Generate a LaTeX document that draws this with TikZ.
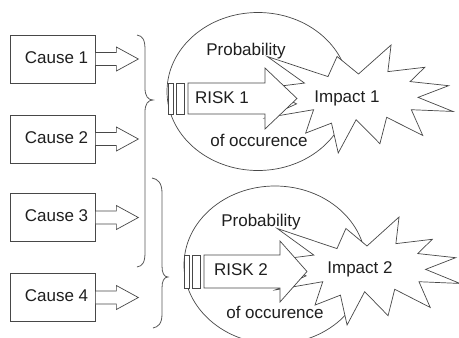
\documentclass[tikz,border=0pt]{standalone}
\usepackage{fontspec}
\setmainfont{Liberation Sans}
\begin{document}
\begin{tikzpicture}[x=1pt,y=-1pt,line width=0.7pt,
  shape line/.style={draw=black!72, fill=white, line join=miter},
  brace line/.style={draw=black!65, line width=0.8pt},
  causebox/.style={draw=black!72, fill=white, minimum width=85pt, minimum height=48pt, inner sep=0pt},
  lbl/.style={text=black!88, font=\fontsize{17}{20}\selectfont, inner sep=0pt}]
\useasboundingbox (0,0) rectangle (459,338);

% cause boxes with their block arrows
\node[causebox] (c1) at (52.5,59) {};
\node[causebox] (c2) at (52.5,139) {};
\node[causebox] (c3) at (52.5,217.5) {};
\node[causebox] (c4) at (52.5,297.5) {};
\foreach \n in {1,...,4}{
  \draw[shape line] (c\n.east) ++(0,-6.5) -- ++(21,0) -- ++(0,-5.5) -- ++(22,12)
        -- ++(-22,12) -- ++(0,-5.5) -- ++(-21,0) -- cycle;
  \node[lbl] (t\n) at ([xshift=4pt,yshift=1.5pt]c\n.center) {Cause \n};
}

% braces
\draw[brace line] (137,35) .. controls (143,36) and (145,40) .. (145,50) -- (145,88)
  .. controls (145,96) and (148,100) .. (153,100) .. controls (148,100) and (145,104) .. (145,112)
  -- (145,252) .. controls (145,262) and (143,266) .. (137,267);
\draw[brace line] (152,178) .. controls (158,179) and (162,183) .. (162,193) -- (162,266)
  .. controls (162,273) and (164,277) .. (168,277) .. controls (164,277) and (162,281) .. (162,288)
  -- (162,314) .. controls (162,324) and (158,327) .. (153,328);

% probability ellipses
\draw[shape line] (258,91.5) ellipse [x radius=91, y radius=79];
\draw[shape line] (275,265) ellipse [x radius=91, y radius=79];

% impact explosions
\begin{scope}[shift={(264,45)}, x=0.875pt, y=-0.5pt]
\draw[shape line] (108,58) -- (145.22,0) -- (141.55,53.25) -- (183.8,44.57) -- (167.02,73.15)
  -- (210.97,81.37) -- (176.07,104.75) -- (216,132.9) -- (168.37,129.42) -- (181.45,180.95)
  -- (140.2,144.57) -- (132.47,197.37) -- (105.32,149.35) -- (84.85,216) -- (77.15,156.27)
  -- (47.62,176.17) -- (56.67,129.37) -- (1.35,145.87) -- (37.22,117.75) -- (0,86.15)
  -- (46.27,76.17) -- (3.7,22.95) -- (73.12,63.2) -- (83.52,22.95) -- cycle;
\end{scope}
\begin{scope}[shift={(274,217)}, x=0.8611pt, y=-0.5pt]
\draw[shape line] (108,58) -- (145.22,0) -- (141.55,53.25) -- (183.8,44.57) -- (167.02,73.15)
  -- (210.97,81.37) -- (176.07,104.75) -- (216,132.9) -- (168.37,129.42) -- (181.45,180.95)
  -- (140.2,144.57) -- (132.47,197.37) -- (105.32,149.35) -- (84.85,216) -- (77.15,156.27)
  -- (47.62,176.17) -- (56.67,129.37) -- (1.35,145.87) -- (37.22,117.75) -- (0,86.15)
  -- (46.27,76.17) -- (3.7,22.95) -- (73.12,63.2) -- (83.52,22.95) -- cycle;
\end{scope}

% striped risk arrows
\draw[shape line] (168,83) rectangle (173,114);
\draw[shape line] (176,83) rectangle (184,114);
\draw[shape line] (188,83) -- (265,83) -- (265,68) -- (297,98.5) -- (265,129) -- (265,114) -- (188,114) -- cycle;
\draw[shape line] (184,255) rectangle (189,288);
\draw[shape line] (192,255) rectangle (200,288);
\draw[shape line] (204,255) -- (280,255) -- (280,241) -- (307,271.5) -- (280,302) -- (280,288) -- (204,288) -- cycle;

% labels
\node[lbl] (p1) at (246,51.5) {Probability};
\node[lbl] (o1) at (259,140) {of occurence};
\node[lbl] (r1) at (222,98) {RISK 1};
\node[lbl] (i1) at (347,98) {Impact 1};
\node[lbl] (p2) at (261,222.5) {Probability};
\node[lbl] (o2) at (275,312) {of occurence};
\node[lbl] (r2) at (241,270) {RISK 2};
\node[lbl] (i2) at (360,269) {Impact 2};
\end{tikzpicture}
\end{document}
